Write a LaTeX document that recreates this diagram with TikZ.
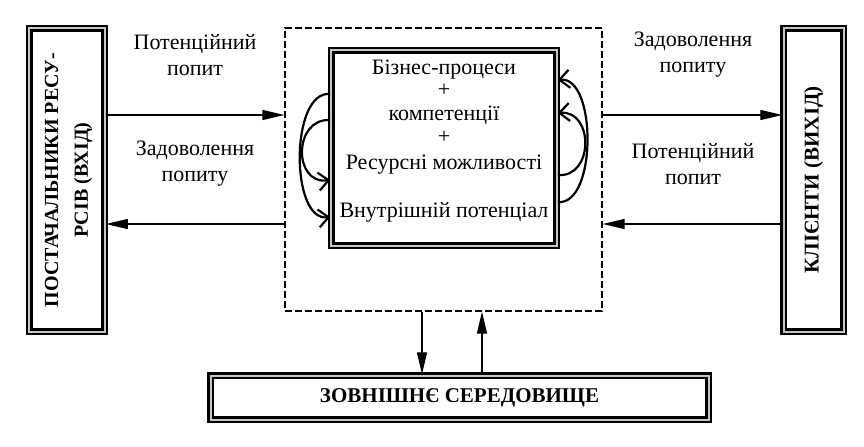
\documentclass[tikz,border=0pt]{standalone}
\usepackage{fontspec}
\setmainfont{Liberation Serif}
\usepackage{graphicx}
\usetikzlibrary{positioning, arrows.meta}

\begin{document}
\begin{tikzpicture}
    [
        x=0.5pt, y=-0.5pt,
        frame_box/.style={draw=black, line width=1.2pt, double=gray!45, double distance=1pt, inner sep=0pt},
        dash_box/.style={draw=black, dash pattern=on 3.5pt off 1.5pt, line width=0.6pt, minimum width=158.5pt, minimum height=141.5pt},
        side_text/.style={font=\fontsize{10.5}{15}\selectfont\bfseries},
        flow_text/.style={font=\fontsize{11}{13}\selectfont, align=center},
        flow/.style={-{Triangle[length=11pt, width=5pt]}, line width=0.6pt},
        loop/.style={-{Straight Barb[length=5pt, width=9pt]}, line width=1.1pt},
    ]
        \useasboundingbox (0,0) rectangle (864,446);
        \node[dash_box] (env) at (443.5,169.5) {};
        \node[frame_box, minimum width=112.6pt, minimum height=97.6pt] (core) at (444,148) {};
        \node[flow_text, font=\fontsize{11}{12}\selectfont] (core_text) at (444,141) {Бізнес-процеси\\[-1pt]+\\[0pt]компетенції\\[-0.5pt]+\\[1pt]Ресурсні можливості\\[12pt]Внутрішній потенціал};
        \node[frame_box, side_text, font=\fontsize{10}{15}\selectfont\bfseries, minimum width=37.6pt, minimum height=151.6pt] (suppliers) at (67,180) {\rotatebox{90}{\begin{tabular}{@{}c@{}}ПОСТАЧАЛЬНИКИ РЕСУ-\\РСІВ (ВХІД)\end{tabular}}};
        \node[frame_box, side_text, minimum width=30pt, minimum height=151.6pt] (clients) at (813.5,180) {\rotatebox{90}{КЛІЄНТИ (ВИХІД)}};
        \node[frame_box, side_text, minimum width=249pt, minimum height=22pt] (outside) at (459.5,397.5) {ЗОВНІШНЄ СЕРЕДОВИЩЕ};
        \node[flow_text] (demand_in) at (195,55) {Потенційний\\попит};
        \node[flow_text] (served_in) at (195,164) {Задоволення\\попиту};
        \node[flow_text] (served_out) at (693,55) {Задоволення\\попиту};
        \node[flow_text] (demand_out) at (693,164) {Потенційний\\попит};
        \coordinate (upper) at (0,115);
        \coordinate (lower) at (0,224);
        \coordinate (down) at (422,0);
        \coordinate (up) at (482,0);
        \draw[flow] (suppliers.east |- upper) to (env.west |- upper);
        \draw[flow] (env.west |- lower) to (suppliers.east |- lower);
        \draw[flow] (env.east |- upper) to (clients.west |- upper);
        \draw[flow] (clients.west |- lower) to (env.east |- lower);
        \draw[flow] (env.south -| down) to (outside.north -| down);
        \draw[flow] (outside.north -| up) to (env.south -| up);
        % loops round the core box
        \draw[loop] (core.west |- 0,94) .. controls (290,90) and (290,222) .. (core.west |- 0,217);
        \draw[loop] (core.west |- 0,120) .. controls (293,118) and (293,185) .. (core.west |- 0,180);
        \draw[loop] (core.east |- 0,202) .. controls (597,206) and (597,76) .. (core.east |- 0,80);
        \draw[loop] (core.east |- 0,175) .. controls (594,178) and (594,110) .. (core.east |- 0,113);
\end{tikzpicture}
\end{document}
